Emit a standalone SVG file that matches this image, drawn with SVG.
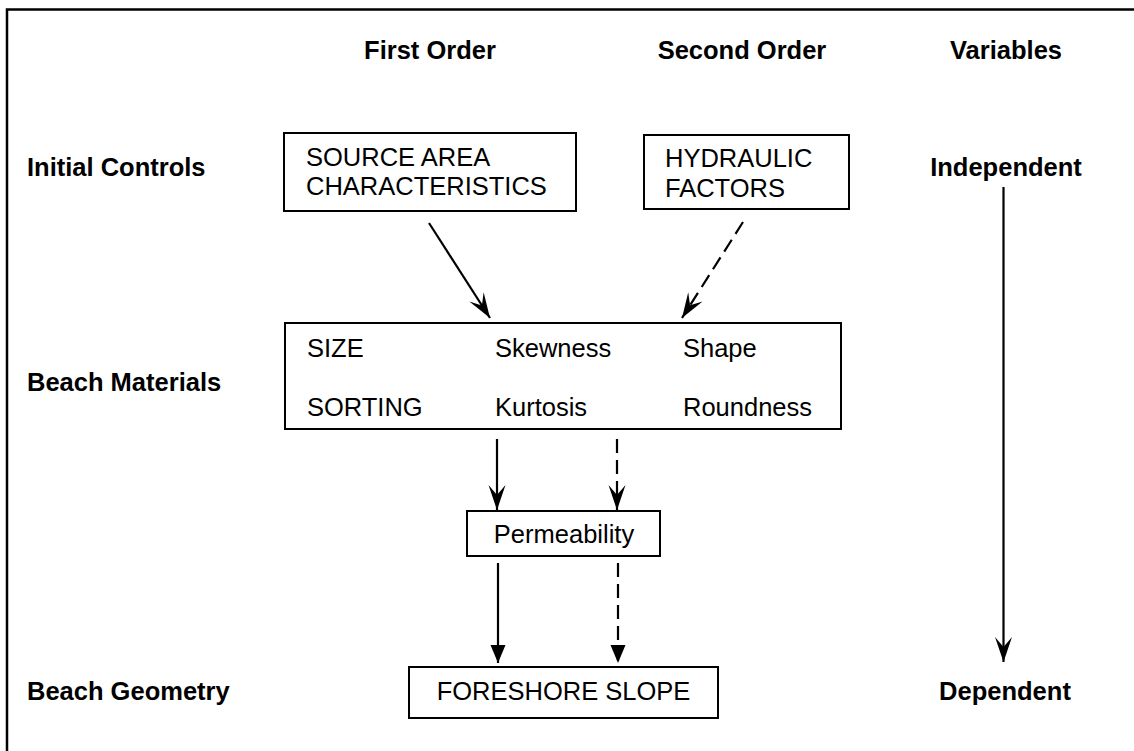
<svg xmlns="http://www.w3.org/2000/svg" width="1134" height="751" viewBox="0 0 1134 751">
<style>
.lbl{font-family:"Liberation Sans",Arial,sans-serif;font-weight:bold;font-size:25.5px;fill:#000}
.txt{font-family:"Liberation Sans",Arial,sans-serif;font-size:25.5px;fill:#000}
.box{fill:#fff;stroke:#000;stroke-width:2}
.ln{fill:none;stroke:#000;stroke-width:2.2}
.dash{stroke-dasharray:14 7}
</style>
<defs>
<marker id="barb" markerUnits="userSpaceOnUse" markerWidth="30" markerHeight="20" viewBox="-26 -10 30 20" refX="0" refY="0" orient="auto">
<path d="M0,0 L-25,-8.5 L-15,0 L-25,8.5 Z" fill="#000"/>
</marker>
<marker id="tri" markerUnits="userSpaceOnUse" markerWidth="24" markerHeight="20" viewBox="-20 -10 24 20" refX="0" refY="0" orient="auto">
<path d="M0,0 L-18,-7.5 L-18,7.5 Z" fill="#000"/>
</marker>
</defs>
<rect width="1134" height="751" fill="#fff"/>
<path d="M7,751 L7,9.5 L1134,9.5" fill="none" stroke="#000" stroke-width="2.5"/>

<g id="headers">
<text class="lbl" x="430" y="59" text-anchor="middle">First Order</text>
<text class="lbl" x="742" y="59" text-anchor="middle">Second Order</text>
<text class="lbl" x="1006" y="59" text-anchor="middle">Variables</text>
</g>
<g id="row-labels">
<text class="lbl" x="27" y="176">Initial Controls</text>
<text class="lbl" x="27" y="391">Beach Materials</text>
<text class="lbl" x="27" y="700">Beach Geometry</text>
</g>
<g id="var-independent"><text class="lbl" x="1006" y="176" text-anchor="middle">Independent</text></g>
<g id="var-dependent"><text class="lbl" x="1005" y="700" text-anchor="middle">Dependent</text></g>

<g id="source-area">
<rect class="box" x="284" y="133" width="292" height="78"/>
<text class="txt" x="306" y="166">SOURCE AREA</text>
<text class="txt" x="306" y="195">CHARACTERISTICS</text>
</g>
<g id="hydraulic">
<rect class="box" x="644" y="135" width="205" height="74"/>
<text class="txt" x="665" y="167">HYDRAULIC</text>
<text class="txt" x="665" y="197">FACTORS</text>
</g>
<g id="beach-materials">
<rect class="box" x="285" y="323" width="556" height="106"/>
<text class="txt" x="307" y="357">SIZE</text>
<text class="txt" x="495" y="357">Skewness</text>
<text class="txt" x="683" y="357">Shape</text>
<text class="txt" x="307" y="416">SORTING</text>
<text class="txt" x="495" y="416">Kurtosis</text>
<text class="txt" x="683" y="416">Roundness</text>
</g>
<g id="permeability">
<rect class="box" x="467" y="511" width="193" height="45"/>
<text class="txt" x="564" y="543" text-anchor="middle">Permeability</text>
</g>
<g id="foreshore-slope">
<rect class="box" x="409" y="667" width="309" height="51"/>
<text class="txt" x="563.5" y="700" text-anchor="middle">FORESHORE SLOPE</text>
</g>

<g id="connectors">
<line class="ln" x1="429" y1="223" x2="490" y2="318" marker-end="url(#barb)"/>
<line class="ln dash" x1="743" y1="222" x2="682" y2="318" marker-end="url(#barb)"/>
<line class="ln" x1="497" y1="439" x2="497" y2="510" marker-end="url(#barb)"/>
<line class="ln dash" x1="617" y1="439" x2="617" y2="510" stroke-dasharray="13 8" marker-end="url(#barb)"/>
<line class="ln" x1="498" y1="563" x2="498" y2="663" marker-end="url(#tri)"/>
<line class="ln dash" x1="618" y1="563" x2="618" y2="663" marker-end="url(#tri)"/>
<line class="ln" x1="1003.5" y1="187" x2="1003.5" y2="662" marker-end="url(#barb)"/>
</g>
</svg>
